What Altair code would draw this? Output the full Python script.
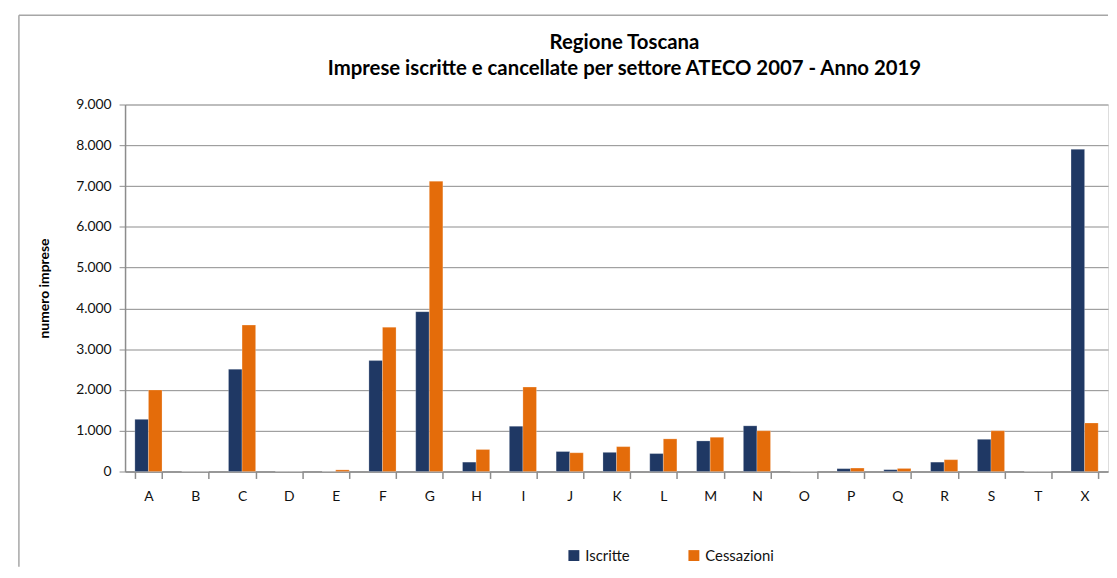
import altair as alt
import pandas as pd

categories = ["A", "B", "C", "D", "E", "F", "G", "H", "I", "J", "K",
              "L", "M", "N", "O", "P", "Q", "R", "S", "T", "X"]
iscritte = [1280, 0, 2510, 0, 0, 2720, 3920, 230, 1110, 490, 470,
            440, 750, 1120, 0, 70, 45, 230, 790, 0, 7900]
cessazioni = [2000, 0, 3590, 0, 40, 3540, 7120, 540, 2070, 460, 610,
              800, 840, 1000, 0, 85, 75, 290, 1000, 0, 1190]
series = ["Iscritte", "Cessazioni"]
colors = ["#1F3864", "#E46C0A"]
title_lines = ["Regione Toscana",
               "Imprese iscritte e cancellate per settore ATECO 2007 - Anno 2019"]
y_ticks = [0, 1000, 2000, 3000, 4000, 5000, 6000, 7000, 8000, 9000]

rows = []
for c, a, b in zip(categories, iscritte, cessazioni):
    rows.append({"settore": c, "serie": series[0], "valore": a})
    rows.append({"settore": c, "serie": series[1], "valore": b})
df = pd.DataFrame(rows)

W, H = 991, 370
FONT = "Lato"

bars = alt.Chart(df).mark_bar(stroke="#ffffff", strokeOpacity=0.4, strokeWidth=0.6).encode(
    x=alt.X("settore:N", sort=categories,
            scale=alt.Scale(paddingInner=0.42, paddingOuter=0.21),
            axis=alt.Axis(title=None, labelAngle=0, tickBand="extent", tickSize=7,
                          labelPadding=11, labelFontSize=14, labelFont=FONT,
                          labelColor="#111111", domainColor="#8c8c8c",
                          tickColor="#8c8c8c", domainWidth=1.5, tickWidth=1.5)),
    xOffset=alt.XOffset("serie:N", sort=series,
                        scale=alt.Scale(paddingInner=0, paddingOuter=0)),
    y=alt.Y("valore:Q", scale=alt.Scale(domain=[0, 9000], nice=False),
            axis=alt.Axis(values=y_ticks, title="numero imprese",
                          labelExpr="replace(format(datum.value, ','), ',', '.')",
                          labelFontSize=14, labelFont=FONT, labelColor="#111111",
                          labelPadding=8, tickSize=6, tickColor="#8c8c8c",
                          domainColor="#8c8c8c", domainWidth=1.5,
                          gridColor="#8c8c8c", gridWidth=1,
                          titleFont=FONT, titleFontSize=14, titleFontWeight="bold",
                          titleColor="#000000", titlePadding=24)),
    color=alt.Color("serie:N", sort=series,
                    scale=alt.Scale(domain=series, range=colors),
                    legend=alt.Legend(title=None, orient="none", legendX=445, legendY=447,
                                      direction="horizontal", symbolType="square",
                                      symbolSize=121, symbolStrokeWidth=0,
                                      labelFontSize=15, labelFont=FONT,
                                      labelColor="#111111", columnPadding=57,
                                      symbolOffset=0, labelOffset=4)),
)

frame_df = pd.DataFrame({"k": [0]})
top_line = alt.Chart(frame_df).mark_rule(color="#a6a6a6", strokeWidth=1.5).encode(
    x=alt.value(-107), x2=alt.value(W), y=alt.value(-90))
left_line = alt.Chart(frame_df).mark_rule(color="#a6a6a6", strokeWidth=1.5).encode(
    x=alt.value(-107), y=alt.value(-90), y2=alt.value(466))

chart = alt.layer(bars, top_line, left_line).properties(
    width=W, height=H,
    padding={"left": 10, "top": 4, "right": 0, "bottom": 0},
    title=alt.TitleParams(text=title_lines, fontSize=20.5, fontWeight="bold",
                          font=FONT, lineHeight=27, anchor="middle", dx=8,
                          color="#000000", offset=-66),
).configure_view(strokeWidth=0).configure(background="#ffffff")

chart.save("out.html", embed_options={"renderer": "svg", "actions": False})
